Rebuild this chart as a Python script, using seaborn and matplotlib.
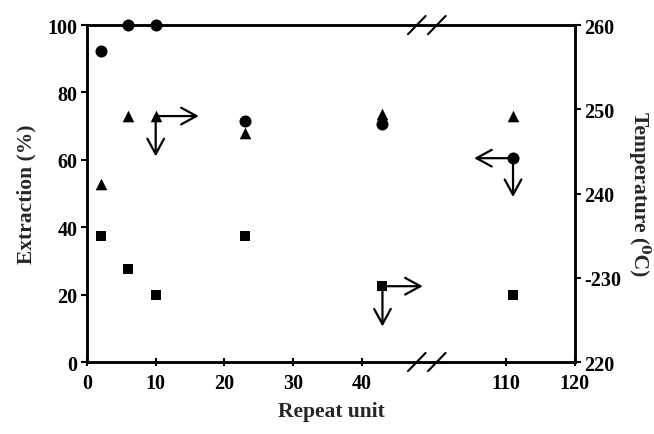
import numpy as np
import pandas as pd
import matplotlib
matplotlib.use("Agg")
import matplotlib.pyplot as plt
import matplotlib.transforms as mt
from matplotlib.patches import FancyArrowPatch
import seaborn as sns

# ---- data ----
repeat_unit = [2, 6, 10, 23, 43, 111]
extraction = [92.2, 100, 100, 71.4, 70.5, 60.5]              # circles, left axis (%)
temp_triangle = [241.1, 249.2, 249.2, 247.2, 249.4, 249.2]   # triangles, right axis (C)
temp_square = [235.0, 231.0, 228.0, 235.0, 229.0, 228.0]     # squares, right axis (C)

x_ticks = [0, 10, 20, 30, 40, 110, 120]
y_left_ticks = [0, 20, 40, 60, 80, 100]
y_right_ticks = [220, 230, 240, 250, 260]
y_right_labels = ["220", "-230", "240", "250", "260"]

df = pd.DataFrame({"x": repeat_unit, "ext": extraction,
                   "tri": temp_triangle, "sq": temp_square})

sns.set_style("ticks")
plt.rcParams["font.family"] = ["Liberation Serif", "DejaVu Serif"]
plt.rcParams["font.weight"] = "bold"

# broken x scale: collapse 48..101 into a short gap
A, B, GAP = 48.0, 101.0, 4.0
def fwd(x):
    x = np.asarray(x, dtype=float)
    return np.where(x <= A, x, np.where(x >= B, x - (B - A - GAP), A + (x - A) * GAP / (B - A)))
def inv(y):
    y = np.asarray(y, dtype=float)
    return np.where(y <= A, y, np.where(y >= A + GAP, y + (B - A - GAP), A + (y - A) * (B - A) / GAP))

fig = plt.figure(figsize=(6.54, 4.35), dpi=100)
ax = fig.add_axes([0.133, 0.1655, 0.746, 0.7745])
ax.set_xscale("function", functions=(fwd, inv))
ax2 = ax.twinx()

sns.scatterplot(data=df, x="x", y="ext", ax=ax, marker="o", color="black",
                s=75, edgecolor="black", linewidth=0, clip_on=False, zorder=5)
sns.scatterplot(data=df, x="x", y="tri", ax=ax2, marker="^", color="black",
                s=70, edgecolor="black", linewidth=0, clip_on=False, zorder=5)
sns.scatterplot(data=df, x="x", y="sq", ax=ax2, marker="s", color="black",
                s=62, edgecolor="black", linewidth=0, clip_on=False, zorder=5)

ax.set_xlim(0, 120)
ax.set_ylim(0, 100)
ax2.set_ylim(220, 260)
ax.set_xticks(x_ticks)
ax.set_xticklabels([str(t) for t in x_ticks])
ax.set_yticks(y_left_ticks)
ax2.set_yticks(y_right_ticks)
ax2.set_yticklabels(y_right_labels)

fs_tick = 14.5
fs_lab = 15.5
for a in (ax, ax2):
    for s in a.spines.values():
        s.set_visible(True)
        s.set_linewidth(1.8)
        s.set_color("black")
    a.tick_params(labelsize=fs_tick, width=1.5, length=4, colors="black", pad=3)
    for lab in a.get_xticklabels() + a.get_yticklabels():
        lab.set_fontweight("bold")
ax.tick_params(axis="x", direction="inout", length=6, pad=5)

ax.set_xlabel("Repeat unit", fontsize=fs_lab, fontweight="bold", labelpad=6)
ax.set_ylabel("Extraction (%)", fontsize=fs_lab, fontweight="bold", labelpad=8)
ax2.set_ylabel("Temperature (\u2070C)", fontsize=fs_lab, fontweight="bold",
               rotation=-90, labelpad=21)

fig.canvas.draw()

def draw_arrow(axis, x, y, dx_pt, dy_pt):
    tr = mt.offset_copy(axis.transData, fig=fig, x=dx_pt, y=dy_pt, units="points")
    pa = fig.transFigure.inverted().transform(axis.transData.transform((x, y)))
    pb = fig.transFigure.inverted().transform(tr.transform((x, y)))
    p = FancyArrowPatch(posA=pa, posB=pb, arrowstyle="->,head_length=0.55,head_width=0.3",
                        color="black", lw=1.6, mutation_scale=20, clip_on=False,
                        zorder=6, transform=fig.transFigure,
                        shrinkA=0, shrinkB=0)
    fig.add_artist(p)

# triangle at 10 (right axis) -> right & down
draw_arrow(ax2, repeat_unit[2], temp_triangle[2], 31, 0)
draw_arrow(ax2, repeat_unit[2], temp_triangle[2], 0, -29)
# square at 43 -> right & down
draw_arrow(ax2, repeat_unit[4], temp_square[4], 29, 0)
draw_arrow(ax2, repeat_unit[4], temp_square[4], 0, -29)
# circle at 111 -> left & down
draw_arrow(ax, repeat_unit[5], extraction[5], -28, 0)
draw_arrow(ax, repeat_unit[5], extraction[5], 0, -28)

# axis break marks on top and bottom spines
for xf in (0.676, 0.717):
    for yf in (0.0, 1.0):
        ax.plot([xf - 0.018, xf + 0.018], [yf - 0.027, yf + 0.027],
                transform=ax.transAxes, color="black", lw=1.5, clip_on=False, zorder=7)

fig.savefig("out.png", dpi=100)
